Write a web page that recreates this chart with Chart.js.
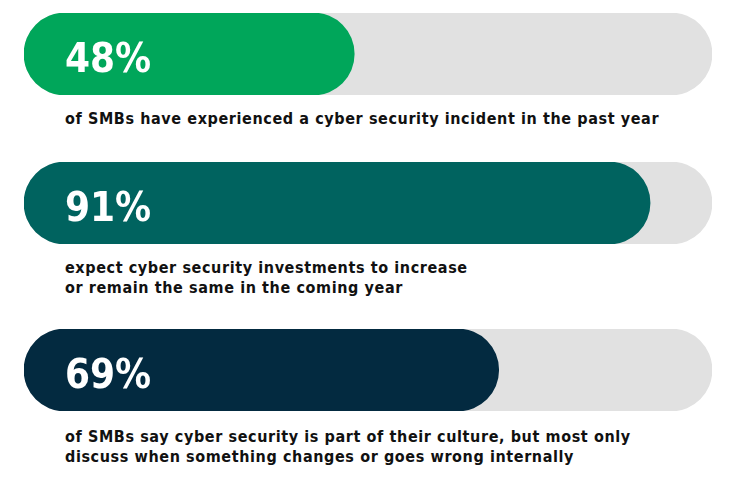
<!DOCTYPE html>
<html>
<head>
<meta charset="utf-8">
<script src="https://cdn.jsdelivr.net/npm/chart.js@4"></script>
<style>
  html, body { margin: 0; padding: 0; background: #ffffff; }
  body { width: 746px; height: 498px; position: relative; overflow: hidden; }
  .box { position: absolute; left: 0; width: 746px; height: 82px; }
  .cap { position: absolute; left: 65px; font-family: "DejaVu Sans Condensed", "DejaVu Sans", sans-serif;
         font-weight: bold; font-size: 16px; letter-spacing: 0.6px; line-height: 20px; color: #111111; white-space: nowrap; }
</style>
</head>
<body>
<div class="box" style="top:13px"><canvas id="c0"></canvas></div>
<div class="cap" id="t0" style="top:109px"></div>
<div class="box" style="top:162px"><canvas id="c1"></canvas></div>
<div class="cap" id="t1" style="top:258px"></div>
<div class="box" style="top:329px"><canvas id="c2"></canvas></div>
<div class="cap" id="t2" style="top:427px"></div>
<script>
const categories = ["Experienced incident", "Investments increase or same", "Part of culture"];
const values = [48, 91, 69];
const trackMax = [100, 100, 100];
const captions = [
  ["of SMBs have experienced a cyber security incident in the past year"],
  ["expect cyber security investments to increase", "or remain the same in the coming year"],
  ["of SMBs say cyber security is part of their culture, but most only", "discuss when something changes or goes wrong internally"]
];
const colors = ["#00a65a", "#00635f", "#032a40"];

const labelPlugin = {
  id: 'pctLabel',
  afterDatasetsDraw(chart) {
    const ctx = chart.ctx;
    const meta = chart.getDatasetMeta(0);
    const bar = meta.data[0];
    const v = chart.data.datasets[0].data[0];
    ctx.save();
    ctx.fillStyle = '#ffffff';
    ctx.font = 'bold 40px "DejaVu Sans Condensed", "DejaVu Sans", sans-serif';
    ctx.textBaseline = 'alphabetic';
    ctx.textAlign = 'left';
    ctx.fillText(v + '%', chart.chartArea.left + 41, bar.y + 18);
    ctx.restore();
  }
};

values.forEach((v, i) => {
  document.getElementById('t' + i).innerHTML = captions[i].join('<br>');
  new Chart(document.getElementById('c' + i), {
    type: 'bar',
    data: {
      labels: [categories[i]],
      datasets: [
        { data: [v], backgroundColor: colors[i], borderRadius: 200, borderSkipped: false,
          grouped: false, order: 0, barPercentage: 1, categoryPercentage: 1 },
        { data: [trackMax[i]], backgroundColor: '#e1e1e1', borderRadius: 200, borderSkipped: false,
          grouped: false, order: 1, barPercentage: 1, categoryPercentage: 1 }
      ]
    },
    options: {
      indexAxis: 'y',
      responsive: true,
      maintainAspectRatio: false,
      animation: false,
      events: [],
      layout: { padding: { left: 24, right: 34, top: 0, bottom: 0 } },
      plugins: { legend: { display: false }, tooltip: { enabled: false } },
      scales: {
        x: { min: 0, max: 100, display: false },
        y: { display: false }
      }
    },
    plugins: [labelPlugin]
  });
});
</script>
</body>
</html>
